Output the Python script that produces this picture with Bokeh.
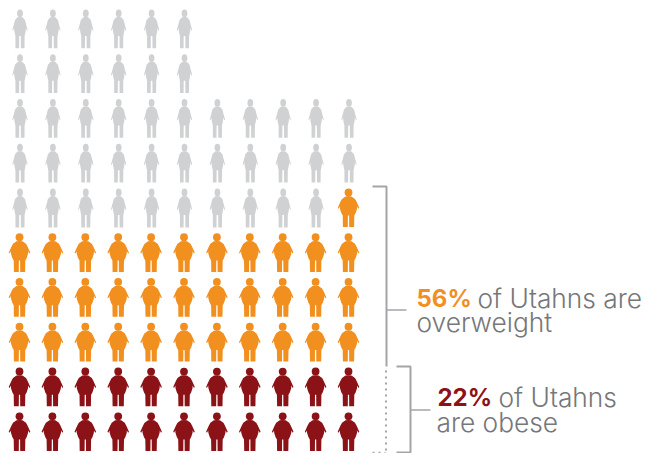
from bokeh.plotting import figure
from bokeh.embed import file_html
from bokeh.resources import INLINE
from bokeh.models import Range1d, Label

categories = ["obese", "overweight", "other"]
counts = [22, 34, 44]
row_lengths = [11, 11, 11, 11, 11, 11, 11, 11, 6, 6]
colors = ["#8b1217", "#f1901f", "#cfd1d3"]
# outline of one figure, in pixels around its centre (half, mirrored below)
heavy_half = [(0,-12),(3,-11.7),(6.5,-9.2),(8,-6.5),(10.8,-0.2),(9.9,0.7),(8.7,-1.6),(8.5,1),(7.2,5),(5.8,7.5),(5.6,19),(0.7,19),(0.6,7.5)]
thin_half = [(0,-12),(2.5,-11.7),(5,-9),(6,-5),(7.7,1.2),(6.9,1.8),(6,-1),(5.5,3),(4.6,7),(4.5,19.3),(0.9,19.3),(0.8,7)]

COL, ROW = 32.9, 44.78
W, H = 645, 453
x0, y0 = 19, 431.5
p = figure(width=W, height=H, output_backend="svg", toolbar_location=None, min_border=0,
           x_range=Range1d(-x0 / COL, (W - x0) / COL), y_range=Range1d(-(H - y0) / ROW, y0 / ROW))
p.axis.visible = False
p.grid.visible = False
p.outline_line_color = None

def px(x): return (x - x0) / COL
def py(y): return (y0 - y) / ROW

cats = []
for cat, n in enumerate(counts):
    cats += [cat] * n
i = 0
for r, n in enumerate(row_lengths):
    for c in reversed(range(n)):
        cat = cats[i]; i += 1
        half = thin_half if cat == 2 else heavy_half
        dx = 0.5 if cat == 2 else 0
        xs = [q[0] for q in half] + [-q[0] for q in reversed(half[1:])]
        ys = [q[1] for q in half] + [q[1] for q in reversed(half[1:])]
        p.patch([c + (v + dx) / COL for v in xs], [r - v / ROW for v in ys], fill_color=colors[cat], line_color=None)
        rx = 2.9 if cat == 2 else 3.9
        p.ellipse([c + dx / COL], [r + 15.7 / ROW], width=2 * rx / COL, height=7.8 / ROW,
                  fill_color=colors[cat], line_color=None)

grey = "#a3a5a8"
p.line([px(372), px(386), px(386)], [py(186), py(186), py(366)], line_color=grey, line_width=2)
p.line([px(386), px(406)], [py(309.5), py(309.5)], line_color=grey, line_width=1.5)
p.line([px(396), px(410), px(410), px(396)], [py(366), py(366), py(452), py(452)], line_color=grey, line_width=2)
p.line([px(410), px(430)], [py(409.5), py(409.5)], line_color=grey, line_width=1.5)
p.line([px(385.5), px(385.5)], [py(370), py(451)], line_color=grey, line_width=2, line_dash="2 4")
p.line([px(372), px(385)], [py(452), py(452)], line_color=grey, line_width=1.5, line_dash="2 4")

txt = "#76777a"
def lab(x, y, s, c, bold=False):
    p.add_layout(Label(x=x, y=H - y, x_units="screen", y_units="screen", text=s, text_color=c,
                       text_font="Inter" if bold else "'Inter Light', 'DejaVu Sans Light', Inter",
                       text_font_size="24px" if bold else "26.3px",
                       text_font_style="bold" if bold else "normal",
                       text_baseline="alphabetic"))
lab(416, 298, "56%", colors[1], True)
lab(477, 298, "of Utahns are", txt)
lab(416, 322, "overweight", txt)
lab(437, 397, "22%", colors[0], True)
lab(498, 397, "of Utahns", txt)
lab(436, 422, "are obese", txt)

open("out.html", "w").write(file_html(p, INLINE))
